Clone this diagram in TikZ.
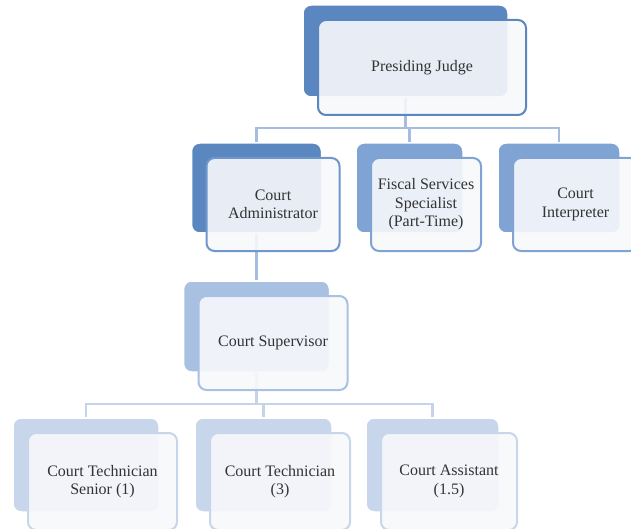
\documentclass[tikz,border=0pt]{standalone}
\usepackage{fontspec}
\setmainfont{Liberation Serif}
\usetikzlibrary{backgrounds}
\definecolor{bdark}{HTML}{5B87C1}
\definecolor{bmid}{HTML}{7FA4D4}
\definecolor{blight}{HTML}{A8C0E1}
\definecolor{bpale}{HTML}{C7D6EB}
\definecolor{cadborder}{HTML}{6F97CD}
\definecolor{connA}{HTML}{A4BDE0}
\definecolor{connB}{HTML}{C5D4EA}
\definecolor{txt}{HTML}{333333}
\definecolor{frontfill}{HTML}{F7F8FB}
\tikzset{
  backbox/.style={rectangle, rounded corners=8pt, draw=white, line width=1.5pt, inner sep=0pt},
  frontbox/.style={rectangle, rounded corners=8pt, line width=2pt, fill=frontfill, fill opacity=0.9,
    text opacity=1, inner sep=0pt, align=center, text=txt,
    font=\fontsize{16}{18.5}\selectfont},
  conn/.style={line width=2.2pt, draw=connA},
  connlow/.style={line width=2.2pt, draw=connB}
}
% #1 name, #2 cx, #3 cy, #4 w, #5 h, #6 back colour, #7 front border, #8 text
\newcommand\orgbox[8]{%
  \node[backbox, fill=#6, minimum width=#4, minimum height=#5] (#1b) at (#2,#3) {};
  \node[frontbox, draw=#7, minimum width=#4+3, minimum height=#5+3] (#1f) at (#2+16.5,#3+16.5) {#8};
}
\begin{document}
\begin{tikzpicture}[x=1pt,y=-1pt]
\useasboundingbox (0,0) rectangle (631,529);
\orgbox{J}{405.5}{51}{205}{92}{bdark}{bdark}{Presiding Judge}
\orgbox{CA}{256.5}{188}{130}{90}{bdark}{cadborder}{Court\\Administrator}
\orgbox{FS}{409.5}{188}{107}{90}{bmid}{bmid}{Fiscal Services\\Specialist\\(Part-Time)}
\orgbox{CI}{559}{188}{122}{90}{bmid}{bmid}{Court\\Interpreter}
\orgbox{CS}{256.5}{326.5}{146}{91}{blight}{blight}{Court Supervisor}
\orgbox{TA}{86}{465}{146}{94}{bpale}{bpale}{Court Technician\\Senior (1)}
\orgbox{TB}{263.5}{465}{137}{94}{bpale}{bpale}{Court Technician\\(3)}
\orgbox{TC}{432.5}{465}{133}{94}{bpale}{bpale}{Court Assistant\\(1.5)}
\coordinate (busA) at (0,128);
\coordinate (busB) at (0,404);
\begin{pgfonlayer}{background}
  \draw[conn] (Jb.south) -- (Jb.south |- busA);
  \draw[conn] (CAb.north) |- (Jb.south |- busA) -| (CIb.north);
  \draw[conn] (FSb.north) -- (FSb.north |- busA);
  \draw[conn] (CAb.south) -- (CAb.south |- CSb.north);
  \draw[connlow] (CSb.south) -- (CSb.south |- busB);
  \draw[connlow] (TAb.north) |- (CSb.south |- busB) -| (TCb.north);
  \draw[connlow] (TBb.north) -- (TBb.north |- busB);
\end{pgfonlayer}
\end{tikzpicture}
\end{document}
